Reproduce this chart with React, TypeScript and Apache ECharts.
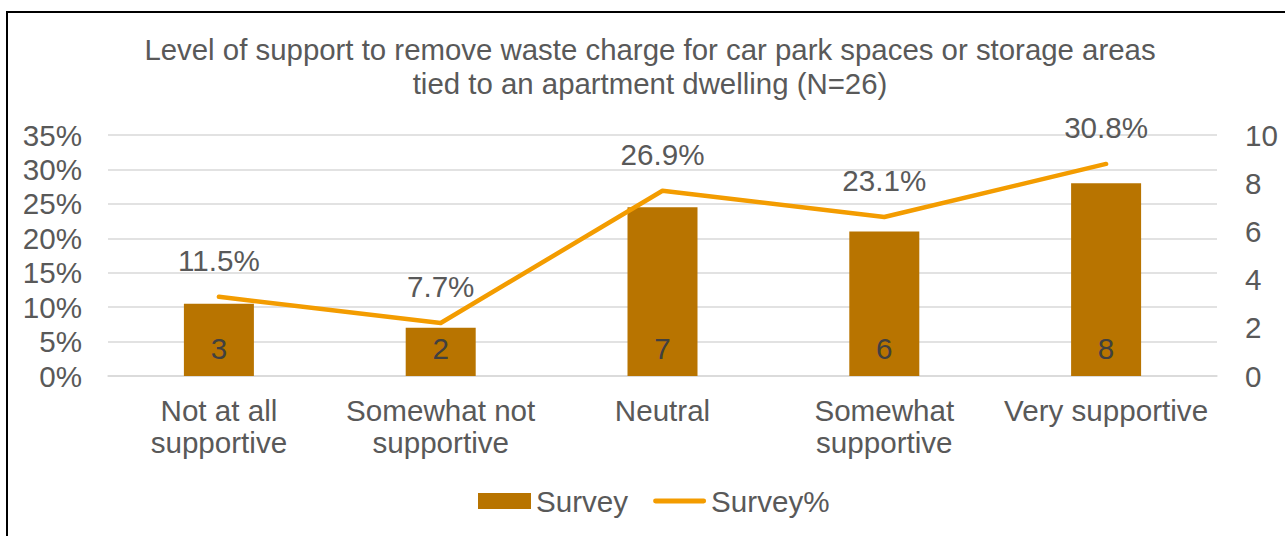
import React, { useEffect, useRef } from "react";
import * as echarts from "echarts";

const categories = [
  "Not at all\nsupportive",
  "Somewhat not\nsupportive",
  "Neutral",
  "Somewhat\nsupportive",
  "Very supportive",
];
const surveyCounts = [3, 2, 7, 6, 8];
const surveyPercent = [11.5, 7.7, 26.9, 23.1, 30.8];

const FONT = "'Liberation Sans', Arial, sans-serif";
const TEXT = "#595959";
const FS = 29.6;
const BAR = "#B87400";
const LINE = "#F39C00";

export default function App() {
  const ref = useRef<HTMLDivElement>(null);
  useEffect(() => {
    document.body.style.margin = "0";
    const chart = echarts.init(ref.current!, null, { renderer: "svg" });
    chart.setOption({
      animation: false,
      textStyle: { fontFamily: FONT },
      title: {
        text: "Level of support to remove waste charge for car park spaces or storage areas\ntied to an apartment dwelling (N=26)",
        left: 650,
        top: 32,
        padding: 0,
        textAlign: "center",
        textStyle: {
          fontFamily: FONT,
          fontSize: 29.4,
          fontWeight: "normal",
          color: TEXT,
          lineHeight: 34,
        },
      },
      graphic: [
        {
          type: "rect",
          shape: { x: 7, y: 12, width: 1320, height: 600 },
          style: { fill: "none", stroke: "#000", lineWidth: 2 },
          silent: true,
        },
      ],
      legend: {
        left: 478,
        top: 486,
        padding: 0,
        itemWidth: 53,
        itemHeight: 16,
        itemGap: 25,
        textStyle: { fontFamily: FONT, fontSize: FS, color: TEXT },
        data: [
          { name: "Survey", icon: "rect", itemStyle: { color: BAR } },
          {
            name: "Survey%",
            icon: "path://M2.5,0 L52.5,0 A2.5,2.5 0 0 1 52.5,5 L2.5,5 A2.5,2.5 0 0 1 2.5,0 Z",
            itemStyle: { color: LINE, opacity: 1, borderWidth: 0 },
          },
        ],
      },
      grid: { left: 108, right: 68, top: 135, bottom: 160 },
      xAxis: {
        type: "category",
        data: categories,
        axisLine: { show: true, lineStyle: { color: "#D9D9D9", width: 1.5 } },
        axisTick: { show: false },
        axisLabel: {
          interval: 0,
          margin: 18,
          fontFamily: FONT,
          fontSize: FS,
          lineHeight: 32,
          color: TEXT,
        },
      },
      yAxis: [
        {
          type: "value",
          min: 0,
          max: 35,
          interval: 5,
          axisLine: { show: false },
          axisTick: { show: false },
          splitLine: { show: true, lineStyle: { color: "#D9D9D9", width: 1.5 } },
          axisLabel: {
            formatter: "{value}%",
            margin: 26,
            fontFamily: FONT,
            fontSize: FS,
            color: TEXT,
          },
        },
        {
          type: "value",
          min: 0,
          max: 10,
          interval: 2,
          axisLine: { show: false },
          axisTick: { show: false },
          splitLine: { show: false },
          axisLabel: {
            margin: 28,
            fontFamily: FONT,
            fontSize: FS,
            color: TEXT,
          },
        },
      ],
      series: [
        {
          name: "Survey",
          type: "bar",
          yAxisIndex: 1,
          data: surveyCounts,
          barWidth: 70,
          itemStyle: { color: BAR },
          label: {
            show: true,
            position: "insideBottom",
            distance: 13,
            fontFamily: FONT,
            fontSize: FS,
            color: "#404040",
          },
        },
        {
          name: "Survey%",
          type: "line",
          yAxisIndex: 0,
          data: surveyPercent,
          symbol: "circle",
          symbolSize: 1,
          showSymbol: true,
          itemStyle: { color: LINE, opacity: 0 },
          lineStyle: { color: LINE, width: 4.5, cap: "round", join: "round" },
          z: 5,
          label: {
            show: true,
            position: "top",
            distance: 21,
            fontFamily: FONT,
            fontSize: FS,
            color: TEXT,
            opacity: 1,
            formatter: (p: any) => Number(p.value).toFixed(1) + "%",
          },
        },
      ],
    });
    return () => chart.dispose();
  }, []);
  return <div ref={ref} style={{ width: 1285, height: 536 }} />;
}
